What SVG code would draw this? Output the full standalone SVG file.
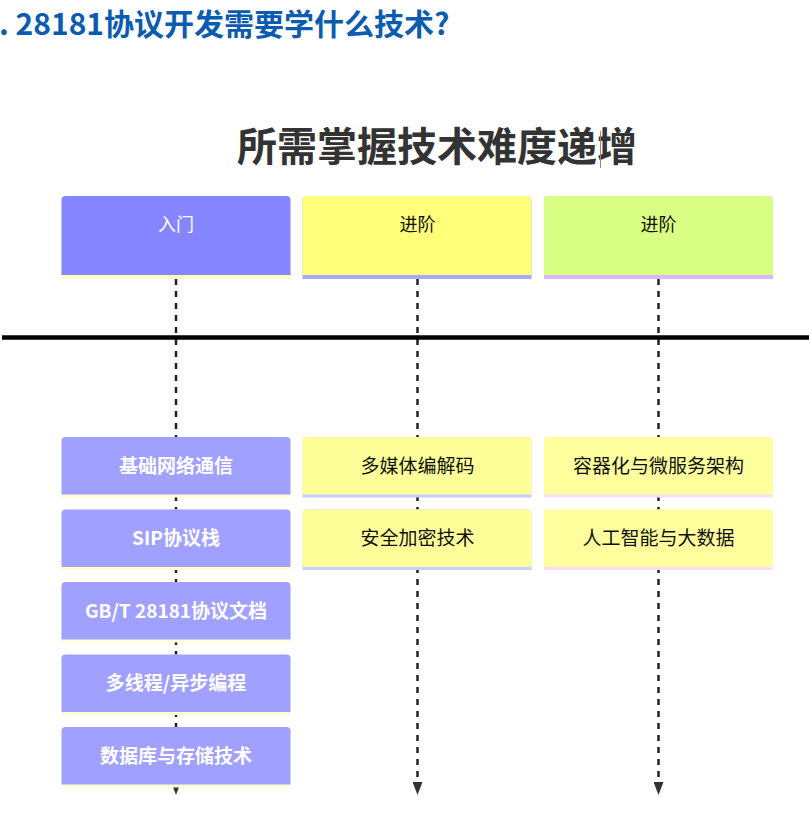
<svg xmlns="http://www.w3.org/2000/svg" width="809" height="817" viewBox="0 0 809 817">
<style>
.cjk{font-family:"Noto Sans CJK SC","Noto Sans",sans-serif}
.h{font-size:18px;text-anchor:middle}
.b{font-size:19px;text-anchor:middle}
.w{fill:#ffffff}
.k{fill:#111111}
.conn{stroke:#222222;stroke-width:2.5;stroke-dasharray:6 6;fill:none}
</style>
<defs>
<marker id="arr" viewBox="0 0 13 10" refX="0" refY="5" markerWidth="13" markerHeight="10" markerUnits="userSpaceOnUse" orient="auto">
<path d="M0,0 L13,5 L0,10 z" fill="#333333"/>
</marker>
</defs>
<rect width="809" height="817" fill="#ffffff"/>
<text x="-1" y="35" class="cjk" font-size="30" font-weight="bold" fill="#0b5cb0">. 28181协议开发需要学什么技术?</text>
<text x="437" y="161" class="cjk" font-size="40" font-weight="bold" fill="#333333" text-anchor="middle">所需掌握技术难度递增</text>
<line x1="600.5" y1="131" x2="600.5" y2="168" stroke="#8a8a8a" stroke-width="1"/>
<g id="connectors">
<line class="conn" x1="176" y1="279" x2="176" y2="782" marker-end="url(#arr)"/>
<line class="conn" x1="417.5" y1="279" x2="417.5" y2="782" marker-end="url(#arr)"/>
<line class="conn" x1="658.5" y1="279" x2="658.5" y2="782" marker-end="url(#arr)"/>
</g>
<line id="axis" x1="2" y1="337.5" x2="809" y2="337.5" stroke="#000000" stroke-width="4.5"/>
<g id="h1">
<path d="M61.5,279 V200 a4,4 0 0 1 4,-4 H286.5 a4,4 0 0 1 4,4 V279 z" fill="#FFFFC2"/>
<path d="M61.5,275 V200 a4,4 0 0 1 4,-4 H286.5 a4,4 0 0 1 4,4 V275 z" fill="#8585FF"/>
<text x="176" y="231" class="cjk h w">入门</text>
</g>
<g id="h2">
<path d="M302.5,279 V200 a4,4 0 0 1 4,-4 H527.5 a4,4 0 0 1 4,4 V279 z" fill="#A8A8FF"/>
<path d="M302.5,275 V200 a4,4 0 0 1 4,-4 H527.5 a4,4 0 0 1 4,4 V275 z" fill="#FFFF7A"/>
<text x="417.5" y="231" class="cjk h k">进阶</text>
</g>
<g id="h3">
<path d="M544,279 V200 a4,4 0 0 1 4,-4 H769 a4,4 0 0 1 4,4 V279 z" fill="#D8B8FF"/>
<path d="M544,275 V200 a4,4 0 0 1 4,-4 H769 a4,4 0 0 1 4,4 V275 z" fill="#D9FF85"/>
<text x="658.5" y="231" class="cjk h k">进阶</text>
</g>
<g id="l1">
<path d="M61.5,497.5 V441 a4,4 0 0 1 4,-4 H286.5 a4,4 0 0 1 4,4 V497.5 z" fill="#FFFFD2"/>
<path d="M61.5,494.5 V441 a4,4 0 0 1 4,-4 H286.5 a4,4 0 0 1 4,4 V494.5 z" fill="#A0A0FF"/>
<text x="176" y="472.5" class="cjk b w" font-weight="bold">基础网络通信</text>
</g>
<g id="l2">
<path d="M61.5,570 V513.5 a4,4 0 0 1 4,-4 H286.5 a4,4 0 0 1 4,4 V570 z" fill="#FFFFD2"/>
<path d="M61.5,567 V513.5 a4,4 0 0 1 4,-4 H286.5 a4,4 0 0 1 4,4 V567 z" fill="#A0A0FF"/>
<text x="176" y="545" class="cjk b w" font-weight="bold">SIP协议栈</text>
</g>
<g id="l3">
<path d="M61.5,642.5 V586 a4,4 0 0 1 4,-4 H286.5 a4,4 0 0 1 4,4 V642.5 z" fill="#FFFFD2"/>
<path d="M61.5,639.5 V586 a4,4 0 0 1 4,-4 H286.5 a4,4 0 0 1 4,4 V639.5 z" fill="#A0A0FF"/>
<text x="176" y="617.5" class="cjk b w" font-weight="bold">GB/T 28181协议文档</text>
</g>
<g id="l4">
<path d="M61.5,715 V658.5 a4,4 0 0 1 4,-4 H286.5 a4,4 0 0 1 4,4 V715 z" fill="#FFFFD2"/>
<path d="M61.5,712 V658.5 a4,4 0 0 1 4,-4 H286.5 a4,4 0 0 1 4,4 V712 z" fill="#A0A0FF"/>
<text x="176" y="690" class="cjk b w" font-weight="bold">多线程/异步编程</text>
</g>
<g id="l5">
<path d="M61.5,787.5 V731 a4,4 0 0 1 4,-4 H286.5 a4,4 0 0 1 4,4 V787.5 z" fill="#FFFFD2"/>
<path d="M61.5,784.5 V731 a4,4 0 0 1 4,-4 H286.5 a4,4 0 0 1 4,4 V784.5 z" fill="#A0A0FF"/>
<text x="176" y="762.5" class="cjk b w" font-weight="bold">数据库与存储技术</text>
</g>
<g id="m1">
<path d="M302.5,497.5 V441 a4,4 0 0 1 4,-4 H527.5 a4,4 0 0 1 4,4 V497.5 z" fill="#C8CCFF"/>
<path d="M302.5,494.5 V441 a4,4 0 0 1 4,-4 H527.5 a4,4 0 0 1 4,4 V494.5 z" fill="#FFFF99"/>
<text x="417.5" y="472.5" class="cjk b k">多媒体编解码</text>
</g>
<g id="m2">
<path d="M302.5,570 V513.5 a4,4 0 0 1 4,-4 H527.5 a4,4 0 0 1 4,4 V570 z" fill="#C8CCFF"/>
<path d="M302.5,567 V513.5 a4,4 0 0 1 4,-4 H527.5 a4,4 0 0 1 4,4 V567 z" fill="#FFFF99"/>
<text x="417.5" y="545" class="cjk b k">安全加密技术</text>
</g>
<g id="r1">
<path d="M544,497.5 V441 a4,4 0 0 1 4,-4 H769 a4,4 0 0 1 4,4 V497.5 z" fill="#FADCFF"/>
<path d="M544,494.5 V441 a4,4 0 0 1 4,-4 H769 a4,4 0 0 1 4,4 V494.5 z" fill="#FFFF9E"/>
<text x="658.5" y="472.5" class="cjk b k">容器化与微服务架构</text>
</g>
<g id="r2">
<path d="M544,570 V513.5 a4,4 0 0 1 4,-4 H769 a4,4 0 0 1 4,4 V570 z" fill="#FADCFF"/>
<path d="M544,567 V513.5 a4,4 0 0 1 4,-4 H769 a4,4 0 0 1 4,4 V567 z" fill="#FFFF9E"/>
<text x="658.5" y="545" class="cjk b k">人工智能与大数据</text>
</g>
</svg>
